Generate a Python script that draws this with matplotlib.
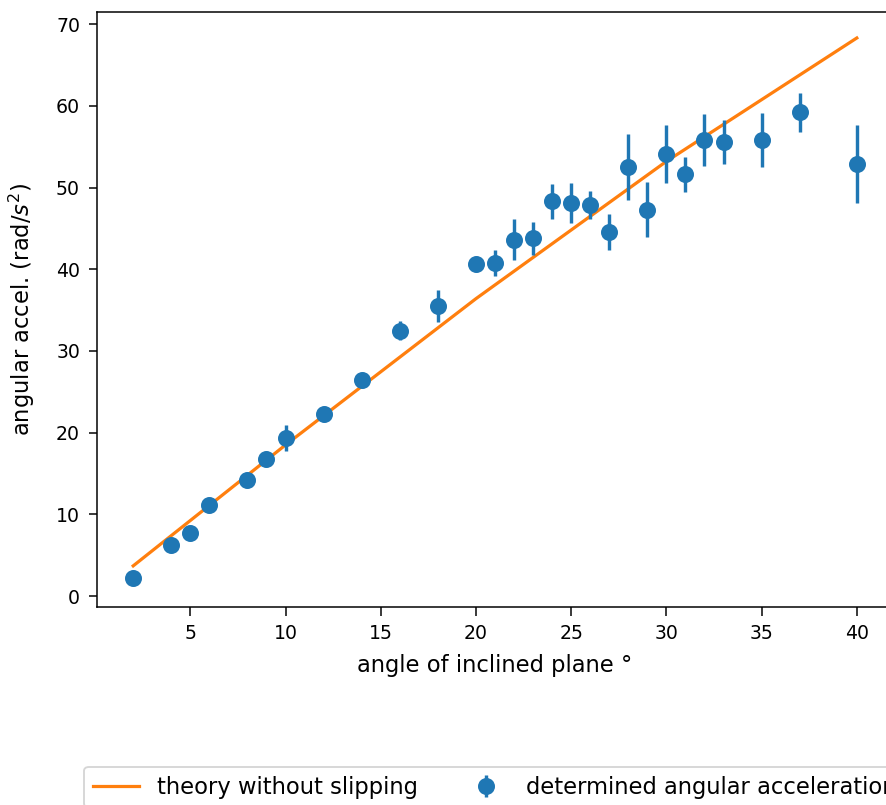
import matplotlib
matplotlib.use("Agg")
import matplotlib.pyplot as plt

# measured angular acceleration per incline angle
angle = [2, 4, 5, 6, 8, 9, 10, 12, 14, 16, 18, 20, 21, 22, 23, 24, 25, 26,
         27, 28, 29, 30, 31, 32, 33, 35, 37, 40]
alpha = [2.2, 6.2, 7.7, 11.2, 14.2, 16.8, 19.3, 22.3, 26.4, 32.5, 35.5, 40.6,
         40.8, 43.6, 43.8, 48.3, 48.1, 47.9, 44.6, 52.5, 47.3, 54.1, 51.6,
         55.8, 55.6, 55.8, 59.2, 52.9]
alpha_err = [0.4, 0.5, 0.5, 0.6, 0.6, 0.7, 1.6, 0.6, 0.6, 1.2, 2.0, 0.5,
             1.6, 2.5, 2.0, 2.1, 2.4, 1.7, 2.2, 4.0, 3.4, 3.5, 2.1, 3.2,
             2.7, 3.3, 2.4, 4.8]

# rolling without slipping prediction
theory_angle = [2, 10, 20, 30, 40]
theory_alpha = [3.7, 18.5, 36.4, 53.2, 68.3]

DPI = 136
fig = plt.figure(figsize=(886 / DPI, 805 / DPI), dpi=DPI)
ax = fig.add_axes([0.1095, 0.2463, 0.8984, 0.739])

ax.plot(theory_angle, theory_alpha, color="C1", lw=1.7,
        label="theory without slipping")
ax.errorbar(angle, alpha, yerr=alpha_err, fmt="o", color="C0", markersize=8,
            elinewidth=1.8, label="determined angular acceleration")

ax.set_xlim(0.1, 41.9)
ax.set_ylim(-1.3, 71.5)
ax.tick_params(length=4.5, pad=4.5)
ax.set_xlabel("angle of inclined plane °", fontsize=12, labelpad=6)
ax.set_ylabel("angular accel. (rad/$s^2$)", fontsize=12, labelpad=10)
ax.legend(loc="upper center", bbox_to_anchor=(0.5, -0.25), ncol=2, fontsize=12)

fig.savefig("out.png", dpi=DPI)
